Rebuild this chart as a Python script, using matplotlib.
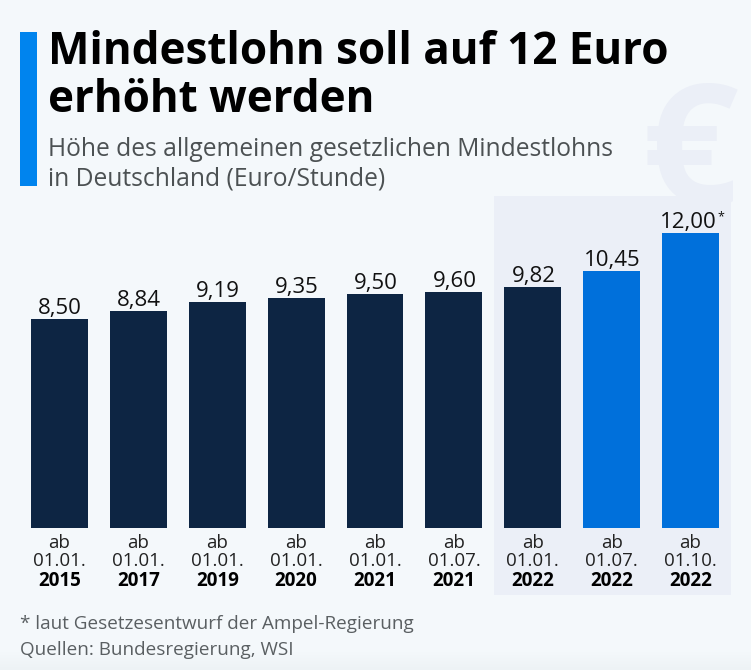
import numpy as np
import matplotlib
matplotlib.use('Agg')
import matplotlib.pyplot as plt
from matplotlib.colors import LinearSegmentedColormap
from matplotlib.patches import Rectangle

plt.rcParams['font.family'] = ['Open Sans', 'DejaVu Sans']

values = [8.50, 8.84, 9.19, 9.35, 9.50, 9.60, 9.82, 10.45, 12.00]
value_labels = ['8,50', '8,84', '9,19', '9,35', '9,50', '9,60', '9,82', '10,45', '12,00']
dates = ['01.01.', '01.01.', '01.01.', '01.01.', '01.01.', '01.07.', '01.01.', '01.07.', '01.10.']
years = ['2015', '2017', '2019', '2020', '2021', '2021', '2022', '2022', '2022']
colors = ['#0d2543'] * 7 + ['#0070db'] * 2

W, H = 751, 670
BG = '#f4f8fb'
HILITE = '#ebeff7'

fig = plt.figure(figsize=(W / 100, H / 100), dpi=100, facecolor=BG)

# background layer in pixel coordinates
deco = fig.add_axes([0, 0, 1, 1])
deco.set_xlim(0, W)
deco.set_ylim(H, 0)
deco.axis('off')

# slight shadow along the bottom edge
fade = LinearSegmentedColormap.from_list('fade', [BG, '#edf2f5'])
deco.imshow(np.linspace(0, 1, 20).reshape(-1, 1), cmap=fade, extent=(0, W, H, 652),
            aspect='auto', zorder=0)
deco.set_xlim(0, W)
deco.set_ylim(H, 0)

# faint euro sign behind the chart
euro = deco.text(690, 161, '€', fontsize=122, fontweight='bold', color=HILITE,
                 ha='center', va='center')
euro.set_clip_path(Rectangle((0, 0), 736, 200, transform=deco.transData))
deco.add_patch(Rectangle((494, 196), 237, 399, color=HILITE, lw=0))

# title block
deco.add_patch(Rectangle((20, 32), 17, 154, color='#0084ee', lw=0))
deco.text(48, 52, 'Mindestlohn soll auf 12 Euro', fontsize=31.7, fontweight='bold',
          color='black', va='center')
deco.text(48, 101, 'erhöht werden', fontsize=31.7, fontweight='bold', color='black', va='center')
deco.text(48, 149, 'Höhe des allgemeinen gesetzlichen Mindestlohns', fontsize=17.7,
          color='#4c5153', va='center')
deco.text(48, 179, 'in Deutschland (Euro/Stunde)', fontsize=17.7, color='#4c5153', va='center')

# footer
deco.text(20, 624, '* laut Gesetzesentwurf der Ampel-Regierung', fontsize=13.6,
          color='#5a5f62', va='center')
deco.text(20, 650, 'Quellen: Bundesregierung, WSI', fontsize=13.6, color='#5a5f62', va='center')

# bars: category spacing ~79 px, baseline at y=528
ax = fig.add_axes([20 / W, (H - 528) / H, 710 / W, 318 / H])
ax.patch.set_alpha(0)
x = list(range(len(values)))
ax.bar(x, values, width=57 / 78.9, color=colors)
ax.set_xlim(-0.5, 8.5)
ax.set_ylim(0, 318 / (295 / 12))
ax.axis('off')

for i, v in enumerate(values):
    dx = -1.5 if i == 8 else 0.5
    ax.annotate(value_labels[i], (i, v), xytext=(dx, 0), textcoords='offset points',
                ha='center', va='bottom', fontsize=16, color='#111111')
    ax.annotate('ab', (i, 0), xytext=(0, -10.5), textcoords='offset points', ha='center',
                va='center', fontsize=13.5, color='#222222', annotation_clip=False)
    ax.annotate(dates[i], (i, 0), xytext=(0, -24), textcoords='offset points', ha='center',
                va='center', fontsize=13.5, color='#222222', annotation_clip=False)
    ax.annotate(years[i], (i, 0), xytext=(0, -38.5), textcoords='offset points', ha='center',
                va='center', fontsize=13.5, fontweight='bold', color='black',
                annotation_clip=False)

ax.annotate('*', (8, values[8]), xytext=(19.5, 11.5), textcoords='offset points', ha='left',
            va='center', fontsize=9, color='#111111')

fig.savefig('out.png', dpi=100, facecolor=BG)
